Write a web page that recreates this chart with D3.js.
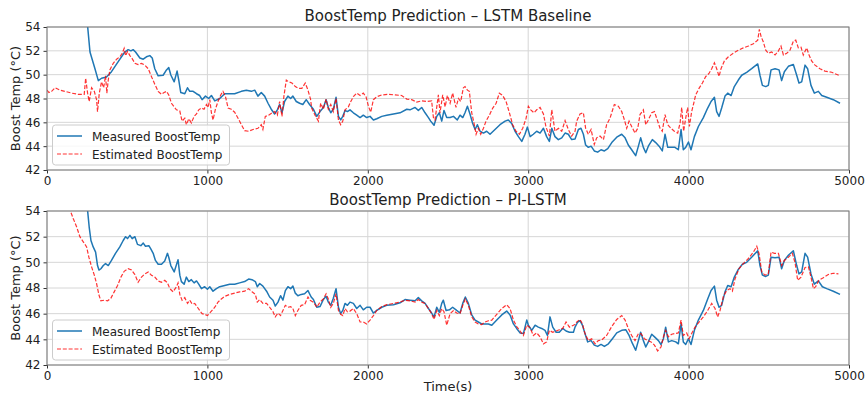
<!DOCTYPE html>
<html>
<head>
<meta charset="utf-8">
<script src="https://cdn.jsdelivr.net/npm/d3@7"></script>
<style>
  body { margin: 0; background: #fff; }
  svg { display: block; font-family: "DejaVu Sans", sans-serif; }
</style>
</head>
<body>
<div id="chart"></div>
<script>
// [time (s), boost temp (°C)]
const lstmMeasured = [[245,56],[253,54.1],[268,51.9],[299,50.5],[320,49.5],[340,49.7],[371,49.8],[402,50.25],[444,51.1],[485,51.9],[506,52.1],[523,52.0],[537,52.1],[552,51.9],[579,51.4],[600,51.3],[620,51.5],[641,51.6],[656,51.4],[672,50.5],[693,49.9],[724,49.95],[745,50.4],[759,50.6],[772,49.97],[793,49.4],[811,50.3],[822,49.5],[834,48.5],[859,48.4],[876,48.9],[890,48.6],[911,48.6],[932,48.4],[952,48.25],[967,47.9],[988,48.2],[1008,48.0],[1025,48.25],[1046,47.8],[1077,48.0],[1108,48.4],[1139,48.4],[1170,48.4],[1212,48.6],[1243,48.7],[1274,48.6],[1295,48.7],[1315,48.2],[1336,48.5],[1357,48.2],[1378,47.6],[1398,47.1],[1419,46.7],[1436,47.05],[1450,47.5],[1465,46.8],[1481,47.75],[1502,48.2],[1519,48.0],[1533,48.2],[1554,47.75],[1575,47.6],[1595,47.5],[1616,47.9],[1637,47.5],[1661,47.1],[1682,46.5],[1702,46.9],[1723,47.25],[1740,47.9],[1754,47.25],[1769,46.8],[1785,47.1],[1802,48.1],[1817,46.5],[1831,46.2],[1844,46.5],[1858,47.0],[1873,46.9],[1889,47.05],[1910,46.8],[1931,46.6],[1952,46.4],[1972,46.6],[1993,46.4],[2014,46.5],[2035,46.2],[2056,46.3],[2087,46.5],[2118,46.6],[2160,46.7],[2201,46.8],[2243,47.1],[2263,47.05],[2295,47.25],[2315,47.0],[2336,47.25],[2357,46.8],[2378,46.4],[2392,46.1],[2413,45.75],[2430,46.5],[2446,46.8],[2461,46.1],[2475,47.0],[2492,46.4],[2513,46.4],[2534,46.5],[2558,46.2],[2575,46.6],[2592,46.4],[2606,46.8],[2621,47.35],[2637,46.7],[2654,45.9],[2669,45.4],[2683,45.8],[2700,45.25],[2721,45.1],[2741,45.25],[2762,45.0],[2793,45.4],[2824,45.8],[2856,46.1],[2876,46.2],[2897,45.9],[2918,45.25],[2939,44.8],[2960,44.4],[2980,45.0],[2995,45.6],[3012,44.8],[3032,45.0],[3053,45.25],[3074,45.1],[3095,45.5],[3115,44.8],[3132,44.4],[3147,45.5],[3167,44.8],[3188,44.55],[3209,44.7],[3230,45.1],[3250,45.0],[3271,44.55],[3292,44.6],[3313,45.4],[3329,45.5],[3344,45.0],[3358,44.1],[3375,43.9],[3392,44.0],[3412,43.6],[3433,43.5],[3454,43.7],[3475,43.6],[3496,43.8],[3521,44.3],[3552,44.75],[3583,45.0],[3604,44.7],[3624,44.1],[3645,43.7],[3670,43.2],[3687,44.0],[3701,44.7],[3718,43.9],[3733,43.45],[3749,44.0],[3774,44.55],[3795,44.3],[3816,44.0],[3836,43.6],[3853,45.0],[3870,43.9],[3890,43.9],[3915,43.9],[3936,43.7],[3953,45.4],[3967,43.7],[3982,43.9],[3999,44.35],[4015,43.7],[4036,44.8],[4061,45.65],[4092,46.4],[4119,47.2],[4140,47.75],[4161,48.1],[4175,46.9],[4190,46.5],[4206,47.2],[4227,48.2],[4244,48.45],[4265,48.25],[4285,49.0],[4310,49.55],[4331,49.95],[4362,50.2],[4393,50.5],[4431,50.9],[4445,49.95],[4460,49.1],[4481,49.0],[4497,49.1],[4514,50.4],[4539,50.5],[4564,50.4],[4580,49.5],[4597,50.25],[4622,50.7],[4653,50.85],[4674,49.95],[4688,49.3],[4705,49.4],[4726,50.8],[4742,50.5],[4763,49.1],[4784,48.45],[4809,48.6],[4830,48.25],[4861,48.1],[4902,47.9],[4944,47.6]];

const lstmEstimated = [[0,48.7],[12,48.5],[29,48.6],[50,48.9],[81,48.7],[112,48.6],[154,48.45],[195,48.35],[232,48.35],[241,49.7],[253,48.45],[263,47.75],[278,48.9],[295,48.6],[309,47.9],[315,46.9],[326,48.45],[340,49.4],[353,48.9],[365,49.9],[373,48.45],[382,49.55],[392,50.4],[413,50.95],[434,51.3],[454,51.5],[469,51.8],[481,52.2],[490,51.6],[502,51.95],[517,51.6],[531,51.35],[548,50.95],[568,50.85],[589,50.95],[610,50.8],[631,50.5],[651,49.85],[672,49.2],[693,48.6],[714,48.35],[730,48.5],[745,48.6],[759,48.3],[776,47.6],[793,47.3],[807,47.05],[828,46.95],[842,46.1],[859,46.35],[869,45.8],[884,46.3],[900,45.95],[917,46.5],[932,46.7],[946,47.05],[963,47.2],[979,47.1],[994,47.5],[1004,47.25],[1015,47.9],[1025,46.8],[1035,46.2],[1050,47.1],[1066,47.75],[1083,48.3],[1097,48.6],[1112,48.2],[1129,47.2],[1149,47.1],[1170,46.85],[1191,46.35],[1212,45.8],[1232,45.3],[1257,45.25],[1284,45.4],[1315,45.5],[1336,45.8],[1346,45.4],[1361,46.5],[1382,46.6],[1403,46.8],[1419,46.9],[1436,46.6],[1450,47.75],[1465,46.5],[1477,48.2],[1492,49.55],[1506,49.4],[1527,49.3],[1548,49.0],[1568,48.85],[1589,48.85],[1610,49.3],[1627,48.7],[1643,47.95],[1650,47.2],[1671,46.6],[1692,46.1],[1706,47.6],[1723,47.1],[1740,47.95],[1754,47.1],[1769,47.5],[1785,46.9],[1802,48.0],[1817,46.2],[1831,45.8],[1844,46.1],[1858,47.05],[1879,47.3],[1894,47.75],[1910,48.15],[1931,48.45],[1952,48.25],[1972,48.45],[1989,48.15],[2004,47.35],[2018,46.85],[2035,47.9],[2056,48.15],[2087,48.3],[2128,48.35],[2170,48.3],[2211,48.25],[2243,47.95],[2274,47.9],[2305,47.7],[2336,47.8],[2367,47.75],[2398,47.8],[2409,46.4],[2419,46.2],[2430,47.3],[2440,48.3],[2450,46.8],[2467,48.3],[2482,47.3],[2496,48.25],[2513,47.6],[2529,48.45],[2550,47.25],[2565,48.0],[2579,47.75],[2596,48.9],[2606,49.0],[2621,48.7],[2633,48.6],[2648,46.8],[2662,45.95],[2675,45.0],[2689,45.5],[2704,45.0],[2721,45.5],[2737,46.1],[2758,46.6],[2779,47.2],[2800,47.6],[2820,48.45],[2841,48.25],[2862,47.75],[2883,46.8],[2903,45.8],[2924,45.25],[2945,45.0],[2966,45.5],[2987,46.35],[3001,47.35],[3016,47.05],[3036,46.8],[3053,47.05],[3074,47.25],[3095,46.7],[3111,45.6],[3132,44.85],[3147,47.05],[3167,45.25],[3188,45.5],[3209,45.25],[3230,46.15],[3250,45.4],[3271,44.85],[3292,45.25],[3302,46.1],[3323,46.7],[3344,46.8],[3358,45.5],[3375,45.0],[3392,45.4],[3412,44.15],[3427,44.7],[3448,44.85],[3469,44.55],[3489,45.8],[3510,46.35],[3537,47.5],[3562,47.35],[3583,46.9],[3600,46.2],[3614,45.5],[3629,46.1],[3645,45.65],[3666,45.1],[3683,45.5],[3697,46.65],[3718,47.05],[3733,45.8],[3749,46.2],[3770,46.8],[3787,46.9],[3801,46.35],[3822,45.5],[3836,45.25],[3853,46.65],[3870,45.8],[3890,45.5],[3911,45.25],[3932,45.1],[3947,45.95],[3957,47.25],[3969,45.25],[3982,46.35],[3994,47.25],[4005,45.65],[4019,46.9],[4032,47.6],[4044,48.3],[4065,48.85],[4086,49.3],[4107,49.85],[4127,50.1],[4144,50.5],[4161,51.0],[4175,50.5],[4190,49.85],[4202,50.5],[4223,51.15],[4248,51.5],[4279,51.8],[4310,52.05],[4341,52.25],[4373,52.4],[4404,52.6],[4431,52.9],[4441,53.8],[4452,53.2],[4466,52.75],[4481,52.05],[4497,51.8],[4518,51.9],[4539,51.65],[4560,52.0],[4576,52.4],[4591,51.65],[4612,51.8],[4632,52.05],[4653,52.8],[4668,52.9],[4684,52.25],[4701,52.3],[4715,51.65],[4736,52.25],[4751,51.65],[4767,51.15],[4788,50.8],[4819,50.5],[4850,50.3],[4892,50.2],[4944,49.9]];

const piMeasured = [[245,57],[253,54.05],[263,52.75],[274,51.7],[288,51.2],[303,50.8],[315,49.75],[324,49.4],[336,49.5],[351,49.75],[365,49.9],[382,49.75],[402,50.15],[427,50.7],[454,51.2],[475,51.7],[490,52.0],[502,51.85],[517,52.1],[531,51.85],[548,52.0],[564,51.4],[585,51.3],[600,51.5],[614,51.25],[635,51.3],[647,51.05],[662,50.7],[676,50.15],[693,49.85],[714,49.85],[734,50.1],[751,50.7],[759,50.4],[772,49.75],[793,49.25],[809,49.9],[817,50.2],[828,49.0],[838,48.5],[855,48.3],[869,48.85],[884,48.5],[900,48.65],[917,48.4],[932,48.55],[946,48.3],[963,47.95],[983,48.1],[1000,47.9],[1015,48.1],[1035,47.75],[1056,47.95],[1077,48.1],[1108,48.2],[1139,48.3],[1170,48.3],[1201,48.4],[1232,48.5],[1257,48.7],[1278,48.65],[1299,48.5],[1311,48.1],[1326,48.35],[1346,48.15],[1369,47.75],[1388,47.3],[1409,47.05],[1423,46.6],[1440,46.9],[1456,47.4],[1471,47.05],[1486,47.8],[1502,48.1],[1519,47.95],[1533,48.15],[1548,47.6],[1564,47.4],[1585,47.5],[1606,47.55],[1627,47.8],[1647,47.3],[1661,47.1],[1682,46.5],[1702,46.55],[1723,47.1],[1740,47.35],[1754,46.9],[1769,46.65],[1785,47.2],[1802,47.95],[1817,46.5],[1831,46.0],[1844,46.25],[1858,46.8],[1873,46.65],[1889,46.9],[1910,46.8],[1931,46.4],[1952,46.65],[1972,46.3],[1993,46.5],[2014,46.5],[2035,46.05],[2056,46.25],[2087,46.5],[2118,46.65],[2160,46.7],[2201,46.85],[2232,47.1],[2263,47.05],[2295,47.0],[2315,47.25],[2336,47.0],[2357,46.8],[2378,46.4],[2398,46.05],[2413,45.75],[2430,46.5],[2446,46.1],[2461,46.8],[2471,47.05],[2488,46.25],[2509,46.3],[2529,46.5],[2554,46.25],[2575,46.05],[2592,46.8],[2608,47.3],[2627,46.8],[2648,45.9],[2669,45.5],[2689,45.35],[2710,45.2],[2731,45.2],[2752,45.2],[2773,45.1],[2804,45.5],[2835,45.9],[2866,46.2],[2887,45.9],[2908,45.2],[2928,44.85],[2949,44.5],[2970,44.45],[2991,45.5],[3001,45.1],[3022,44.7],[3043,45.1],[3063,44.95],[3084,44.85],[3105,44.7],[3120,44.3],[3136,45.75],[3153,44.95],[3174,44.55],[3194,44.55],[3215,44.85],[3236,44.65],[3257,44.55],[3282,44.55],[3292,44.95],[3309,45.35],[3323,45.45],[3338,45.1],[3354,44.45],[3371,43.8],[3392,43.9],[3412,43.55],[3433,43.45],[3454,43.6],[3475,43.45],[3500,43.65],[3525,44.05],[3552,44.5],[3583,44.7],[3608,44.75],[3629,44.3],[3649,43.7],[3670,43.15],[3687,43.9],[3701,44.55],[3718,43.9],[3733,43.4],[3749,43.8],[3770,44.4],[3791,44.15],[3812,43.9],[3828,43.6],[3843,44.05],[3857,44.95],[3874,43.8],[3895,43.9],[3920,43.8],[3936,43.65],[3953,45.2],[3967,43.8],[3982,43.6],[3999,44.05],[4015,43.6],[4036,44.7],[4061,45.5],[4092,46.25],[4119,47.15],[4140,47.8],[4161,48.15],[4175,47.05],[4190,46.5],[4206,46.65],[4227,47.7],[4244,48.2],[4265,48.1],[4285,48.85],[4310,49.45],[4335,49.85],[4362,50.0],[4393,50.4],[4431,50.9],[4445,49.75],[4460,49.0],[4481,48.9],[4497,49.0],[4514,50.4],[4539,50.35],[4564,50.4],[4580,49.5],[4597,50.15],[4622,50.55],[4653,50.9],[4674,49.75],[4688,49.1],[4705,49.25],[4726,50.7],[4742,50.4],[4763,49.1],[4784,48.3],[4809,48.55],[4834,48.1],[4861,47.95],[4902,47.75],[4944,47.5]];

const piEstimated = [[140,54.3],[149,53.9],[164,53.4],[185,52.75],[205,52.0],[226,51.6],[247,51.2],[261,50.4],[278,49.65],[295,49.0],[309,48.35],[324,47.45],[336,47.0],[357,47.05],[378,47.0],[398,47.2],[419,47.7],[440,48.2],[461,48.85],[481,49.3],[506,49.5],[527,49.4],[548,49.05],[568,48.45],[589,48.85],[610,49.1],[631,49.25],[651,49.0],[672,48.85],[693,48.55],[714,48.45],[734,48.6],[751,48.4],[766,47.95],[786,47.7],[807,48.1],[817,48.4],[828,47.5],[842,47.05],[859,47.25],[876,46.8],[890,47.05],[905,46.75],[921,46.8],[938,46.5],[952,46.25],[967,46.0],[983,45.95],[1000,45.85],[1015,46.05],[1029,46.25],[1046,46.5],[1066,46.9],[1087,47.15],[1108,47.35],[1139,47.5],[1170,47.6],[1201,47.7],[1232,47.75],[1257,47.95],[1278,47.7],[1299,47.5],[1311,46.9],[1326,47.1],[1346,46.8],[1369,46.8],[1388,46.5],[1409,46.15],[1423,45.75],[1440,46.05],[1456,45.85],[1471,46.25],[1486,46.65],[1502,46.5],[1519,46.55],[1533,46.4],[1548,45.85],[1564,46.25],[1585,46.65],[1606,46.7],[1627,47.3],[1640,47.05],[1661,46.9],[1682,46.5],[1702,46.9],[1723,47.15],[1740,47.55],[1754,47.15],[1769,46.5],[1785,46.8],[1802,47.55],[1817,46.25],[1831,45.95],[1844,45.85],[1858,46.4],[1873,46.15],[1889,46.2],[1910,46.4],[1931,46.0],[1952,45.35],[1972,45.35],[1993,45.2],[2014,45.5],[2035,45.85],[2056,46.25],[2087,46.55],[2118,46.7],[2160,46.8],[2201,46.9],[2232,47.05],[2263,47.0],[2295,46.9],[2315,47.1],[2336,46.9],[2357,46.8],[2378,46.4],[2398,46.0],[2413,45.55],[2430,46.25],[2446,45.85],[2461,46.4],[2475,46.15],[2492,45.1],[2513,46.0],[2534,46.25],[2554,46.05],[2575,46.0],[2592,46.65],[2608,47.15],[2627,46.65],[2648,45.75],[2669,45.35],[2689,45.2],[2710,45.15],[2731,45.35],[2752,45.45],[2773,45.5],[2804,45.95],[2835,46.4],[2866,46.7],[2887,46.4],[2908,45.5],[2928,45.0],[2949,44.65],[2970,44.3],[2991,45.1],[3012,44.9],[3032,44.3],[3053,44.5],[3074,44.2],[3095,43.65],[3115,43.8],[3132,44.7],[3153,44.55],[3174,44.65],[3194,44.75],[3215,44.85],[3236,45.35],[3257,44.95],[3282,45.1],[3298,45.2],[3302,45.35],[3323,45.55],[3338,45.2],[3354,44.45],[3375,43.9],[3396,44.05],[3417,43.65],[3437,43.9],[3458,43.95],[3489,44.3],[3521,45.0],[3552,45.55],[3583,45.85],[3604,45.5],[3624,44.85],[3645,44.3],[3666,43.9],[3687,44.45],[3703,44.45],[3724,44.05],[3745,43.9],[3766,43.8],[3787,43.55],[3807,43.1],[3828,43.4],[3843,44.2],[3857,44.7],[3874,44.2],[3895,44.4],[3915,44.45],[3936,44.5],[3953,45.5],[3967,44.3],[3988,44.5],[4003,44.05],[4019,44.45],[4040,44.95],[4065,45.35],[4092,45.75],[4119,46.25],[4144,46.8],[4165,46.4],[4181,45.75],[4196,46.25],[4217,47.35],[4237,47.8],[4258,47.95],[4273,47.75],[4289,48.7],[4314,49.5],[4341,49.9],[4373,50.3],[4404,50.8],[4425,51.25],[4439,50.7],[4456,49.25],[4476,49.0],[4497,49.1],[4514,50.8],[4535,50.7],[4560,50.7],[4580,49.75],[4597,50.15],[4622,50.4],[4647,50.7],[4664,49.95],[4680,48.6],[4701,48.85],[4726,49.6],[4747,49.65],[4763,48.85],[4778,47.95],[4792,48.1],[4813,48.6],[4840,48.8],[4871,49.05],[4902,49.15],[4934,49.1]];

const xTicks = [0, 1000, 2000, 3000, 4000, 5000];
const yTicks = [42, 44, 46, 48, 50, 52, 54];
const titles = ["BoostTemp Prediction – LSTM Baseline", "BoostTemp Prediction – PI-LSTM"];
const seriesNames = ["Measured BoostTemp", "Estimated BoostTemp"];

const W = 866, H = 399;
const left = 47, right = 849;
const panels = [
  { title: titles[0], top: 27, bottom: 170, measured: lstmMeasured, estimated: lstmEstimated },
  { title: titles[1], top: 211, bottom: 365, measured: piMeasured, estimated: piEstimated }
];

const svg = d3.select("#chart").append("svg")
  .attr("width", W)
  .attr("height", H);

const x = d3.scaleLinear().domain([0, 5000]).range([left, right]);

panels.forEach((p, i) => {
  const y = d3.scaleLinear().domain([42, 54]).range([p.bottom, p.top]);
  const g = svg.append("g");

  // grid
  g.append("g").selectAll("line.vg").data(xTicks).enter().append("line")
    .attr("x1", d => x(d)).attr("x2", d => x(d))
    .attr("y1", p.top).attr("y2", p.bottom)
    .attr("stroke", "#d6d6d6").attr("stroke-width", 1);
  g.append("g").selectAll("line.hg").data(yTicks).enter().append("line")
    .attr("x1", left).attr("x2", right)
    .attr("y1", d => y(d)).attr("y2", d => y(d))
    .attr("stroke", "#d6d6d6").attr("stroke-width", 1);

  // axes
  const xAxis = g.append("g")
    .attr("transform", `translate(0,${p.bottom})`)
    .call(d3.axisBottom(x).tickValues(xTicks).tickFormat(d3.format("d")).tickSize(3.5).tickPadding(3));
  const yAxis = g.append("g")
    .attr("transform", `translate(${left},0)`)
    .call(d3.axisLeft(y).tickValues(yTicks).tickSize(3.5).tickPadding(3));
  [xAxis, yAxis].forEach(a => {
    a.select(".domain").remove();
    a.selectAll("line").attr("stroke", "#333");
    a.selectAll("text").style("font-size", "12px").style("font-family", "DejaVu Sans").attr("fill", "#222");
  });

  // clip
  const clipId = "clip" + i;
  svg.append("clipPath").attr("id", clipId).append("rect")
    .attr("x", left).attr("y", p.top).attr("width", right - left).attr("height", p.bottom - p.top);

  const line = d3.line().x(d => x(d[0])).y(d => y(d[1]));
  const lines = g.append("g").attr("clip-path", `url(#${clipId})`);
  lines.append("path").datum(p.measured)
    .attr("d", line).attr("fill", "none")
    .attr("stroke", "#1f77b4").attr("stroke-width", 1.5).attr("stroke-linejoin", "round");
  lines.append("path").datum(p.estimated)
    .attr("d", line).attr("fill", "none")
    .attr("stroke", "red").attr("stroke-opacity", 0.8)
    .attr("stroke-width", 1.2).attr("stroke-dasharray", "4,1.8");

  // frame
  g.append("rect")
    .attr("x", left).attr("y", p.top).attr("width", right - left).attr("height", p.bottom - p.top)
    .attr("fill", "none").attr("stroke", "#777").attr("stroke-width", 1);

  // title
  svg.append("text")
    .attr("x", (left + right) / 2).attr("y", p.top - 6)
    .attr("text-anchor", "middle")
    .style("font-size", "15px").attr("fill", "#222")
    .text(p.title);

  // y label
  svg.append("text")
    .attr("transform", `translate(20,${(p.top + p.bottom) / 2}) rotate(-90)`)
    .attr("text-anchor", "middle")
    .style("font-size", "13px").attr("fill", "#222")
    .text("Boost Temp (°C)");

  // legend
  const lg = svg.append("g");
  lg.append("rect")
    .attr("x", 52.5).attr("y", p.bottom - 45).attr("width", 177).attr("height", 40)
    .attr("rx", 3).attr("fill", "white").attr("fill-opacity", 0.8)
    .attr("stroke", "#ccc").attr("stroke-width", 1);
  const rows = [
    { name: seriesNames[0], color: "#1f77b4", dash: null, w: 1.5, y: p.bottom - 34 },
    { name: seriesNames[1], color: "red", dash: "4,1.8", w: 1.2, y: p.bottom - 16 }
  ];
  rows.forEach(r => {
    lg.append("line")
      .attr("x1", 57).attr("x2", 82).attr("y1", r.y).attr("y2", r.y)
      .attr("stroke", r.color).attr("stroke-width", r.w)
      .attr("stroke-opacity", r.dash ? 0.8 : 1)
      .attr("stroke-dasharray", r.dash);
    lg.append("text")
      .attr("x", 92).attr("y", r.y + 4.5)
      .style("font-size", "12px").attr("fill", "#222")
      .text(r.name);
  });
});

svg.append("text")
  .attr("x", (left + right) / 2).attr("y", 391)
  .attr("text-anchor", "middle")
  .style("font-size", "13px").attr("fill", "#222")
  .text("Time(s)");
</script>
</body>
</html>
